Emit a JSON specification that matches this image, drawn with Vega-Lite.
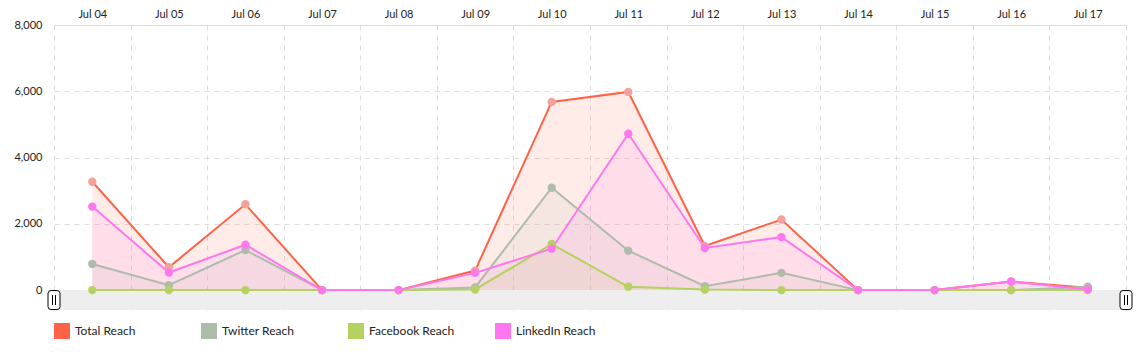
{
  "$schema": "https://vega.github.io/schema/vega-lite/v6.json",
  "width": 1072,
  "height": 285,
  "autosize": {"type": "none"},
  "padding": {"left": 54, "top": 25, "right": 11, "bottom": 47},
  "config": {
    "font": "Lato",
    "view": {"stroke": null},
    "axis": {"labelFont": "Lato", "labelFontSize": 11, "labelColor": "#222222", "tickSize": 0, "ticks": false}
  },
  "data": {"values": [
    {"d": "2016-07-04T00:00:00", "s": "Total Reach", "v": 3270},
    {"d": "2016-07-05T00:00:00", "s": "Total Reach", "v": 690},
    {"d": "2016-07-06T00:00:00", "s": "Total Reach", "v": 2590},
    {"d": "2016-07-07T00:00:00", "s": "Total Reach", "v": 0},
    {"d": "2016-07-08T00:00:00", "s": "Total Reach", "v": 0},
    {"d": "2016-07-09T00:00:00", "s": "Total Reach", "v": 590},
    {"d": "2016-07-10T00:00:00", "s": "Total Reach", "v": 5680},
    {"d": "2016-07-11T00:00:00", "s": "Total Reach", "v": 5980},
    {"d": "2016-07-12T00:00:00", "s": "Total Reach", "v": 1330},
    {"d": "2016-07-13T00:00:00", "s": "Total Reach", "v": 2130},
    {"d": "2016-07-14T00:00:00", "s": "Total Reach", "v": 0},
    {"d": "2016-07-15T00:00:00", "s": "Total Reach", "v": 0},
    {"d": "2016-07-16T00:00:00", "s": "Total Reach", "v": 260},
    {"d": "2016-07-17T00:00:00", "s": "Total Reach", "v": 70},
    {"d": "2016-07-04T00:00:00", "s": "Twitter Reach", "v": 790},
    {"d": "2016-07-05T00:00:00", "s": "Twitter Reach", "v": 150},
    {"d": "2016-07-06T00:00:00", "s": "Twitter Reach", "v": 1210},
    {"d": "2016-07-07T00:00:00", "s": "Twitter Reach", "v": 0},
    {"d": "2016-07-08T00:00:00", "s": "Twitter Reach", "v": 0},
    {"d": "2016-07-09T00:00:00", "s": "Twitter Reach", "v": 80},
    {"d": "2016-07-10T00:00:00", "s": "Twitter Reach", "v": 3090},
    {"d": "2016-07-11T00:00:00", "s": "Twitter Reach", "v": 1190},
    {"d": "2016-07-12T00:00:00", "s": "Twitter Reach", "v": 120},
    {"d": "2016-07-13T00:00:00", "s": "Twitter Reach", "v": 520},
    {"d": "2016-07-14T00:00:00", "s": "Twitter Reach", "v": 0},
    {"d": "2016-07-15T00:00:00", "s": "Twitter Reach", "v": 0},
    {"d": "2016-07-16T00:00:00", "s": "Twitter Reach", "v": 0},
    {"d": "2016-07-17T00:00:00", "s": "Twitter Reach", "v": 100},
    {"d": "2016-07-04T00:00:00", "s": "Facebook Reach", "v": 0},
    {"d": "2016-07-05T00:00:00", "s": "Facebook Reach", "v": 0},
    {"d": "2016-07-06T00:00:00", "s": "Facebook Reach", "v": 0},
    {"d": "2016-07-07T00:00:00", "s": "Facebook Reach", "v": 0},
    {"d": "2016-07-08T00:00:00", "s": "Facebook Reach", "v": 0},
    {"d": "2016-07-09T00:00:00", "s": "Facebook Reach", "v": 20},
    {"d": "2016-07-10T00:00:00", "s": "Facebook Reach", "v": 1390},
    {"d": "2016-07-11T00:00:00", "s": "Facebook Reach", "v": 100},
    {"d": "2016-07-12T00:00:00", "s": "Facebook Reach", "v": 20},
    {"d": "2016-07-13T00:00:00", "s": "Facebook Reach", "v": 0},
    {"d": "2016-07-14T00:00:00", "s": "Facebook Reach", "v": 0},
    {"d": "2016-07-15T00:00:00", "s": "Facebook Reach", "v": 0},
    {"d": "2016-07-16T00:00:00", "s": "Facebook Reach", "v": 0},
    {"d": "2016-07-17T00:00:00", "s": "Facebook Reach", "v": 0},
    {"d": "2016-07-04T00:00:00", "s": "LinkedIn Reach", "v": 2520},
    {"d": "2016-07-05T00:00:00", "s": "LinkedIn Reach", "v": 530},
    {"d": "2016-07-06T00:00:00", "s": "LinkedIn Reach", "v": 1370},
    {"d": "2016-07-07T00:00:00", "s": "LinkedIn Reach", "v": 0},
    {"d": "2016-07-08T00:00:00", "s": "LinkedIn Reach", "v": 0},
    {"d": "2016-07-09T00:00:00", "s": "LinkedIn Reach", "v": 520},
    {"d": "2016-07-10T00:00:00", "s": "LinkedIn Reach", "v": 1250},
    {"d": "2016-07-11T00:00:00", "s": "LinkedIn Reach", "v": 4720},
    {"d": "2016-07-12T00:00:00", "s": "LinkedIn Reach", "v": 1270},
    {"d": "2016-07-13T00:00:00", "s": "LinkedIn Reach", "v": 1600},
    {"d": "2016-07-14T00:00:00", "s": "LinkedIn Reach", "v": 0},
    {"d": "2016-07-15T00:00:00", "s": "LinkedIn Reach", "v": 0},
    {"d": "2016-07-16T00:00:00", "s": "LinkedIn Reach", "v": 260},
    {"d": "2016-07-17T00:00:00", "s": "LinkedIn Reach", "v": 20}
  ]},
  "resolve": {"axis": {"x": "independent", "y": "independent"}},
  "layer": [
    {
      "data": {"values": [{}]},
      "mark": {"type": "rect", "color": "#eeeeee"},
      "encoding": {
        "y": {"datum": -600, "type": "quantitative", "axis": null},
        "y2": {"datum": 0}
      }
    },
    {
      "mark": {"type": "area", "fillOpacity": 0.12, "interpolate": "linear"},
      "encoding": {
        "x": {
          "field": "d", "type": "temporal",
          "scale": {"domain": [{"year": 2016, "month": 7, "date": 3, "hours": 12}, {"year": 2016, "month": 7, "date": 17, "hours": 12}]},
          "axis": {
            "orient": "top", "title": null, "labels": false, "ticks": false, "domain": true, "domainColor": "#dddddd",
            "grid": true, "gridColor": "#dddddd", "gridDash": [5, 5], "gridWidth": 1,
            "values": [
              {"year": 2016, "month": 7, "date": 3, "hours": 12},
              {"year": 2016, "month": 7, "date": 4, "hours": 12},
              {"year": 2016, "month": 7, "date": 5, "hours": 12},
              {"year": 2016, "month": 7, "date": 6, "hours": 12},
              {"year": 2016, "month": 7, "date": 7, "hours": 12},
              {"year": 2016, "month": 7, "date": 8, "hours": 12},
              {"year": 2016, "month": 7, "date": 9, "hours": 12},
              {"year": 2016, "month": 7, "date": 10, "hours": 12},
              {"year": 2016, "month": 7, "date": 11, "hours": 12},
              {"year": 2016, "month": 7, "date": 12, "hours": 12},
              {"year": 2016, "month": 7, "date": 13, "hours": 12},
              {"year": 2016, "month": 7, "date": 14, "hours": 12},
              {"year": 2016, "month": 7, "date": 15, "hours": 12},
              {"year": 2016, "month": 7, "date": 16, "hours": 12},
              {"year": 2016, "month": 7, "date": 17, "hours": 12}
            ]
          }
        },
        "y": {
          "field": "v", "type": "quantitative",
          "scale": {"domain": [-600, 8000], "nice": false, "zero": false},
          "axis": {
            "title": null, "values": [0, 2000, 4000, 6000, 8000], "format": ",d", "domain": false,
            "labelPadding": 12, "grid": true, "gridDash": [5, 5],
            "gridColor": {"condition": {"test": "datum.value === 0", "value": "#999999"}, "value": "#dddddd"}
          }
        },
        "y2": {"datum": 0},
        "color": {
          "field": "s", "type": "nominal",
          "scale": {"domain": ["Total Reach", "Twitter Reach", "Facebook Reach", "LinkedIn Reach"], "range": ["#ff6347", "#aebcab", "#b5d160", "#ff77ee"]},
          "legend": {
            "title": null, "orient": "none", "legendX": 0, "legendY": 298, "direction": "horizontal", "columns": 4,
            "gridAlign": "all", "columnPadding": 40, "symbolType": "square", "symbolSize": 256, "symbolOpacity": 1,
            "symbolStrokeWidth": 0, "labelFontSize": 12, "labelColor": "#222222", "labelOffset": 5, "padding": 0,
            "encode": {"symbols": {"update": {"fillOpacity": {"value": 1}, "strokeWidth": {"value": 0}}}}
          }
        }
      }
    },
    {
      "mark": {"type": "line", "strokeWidth": 2},
      "encoding": {
        "x": {
          "field": "d", "type": "temporal",
          "axis": {
            "orient": "top", "title": null, "grid": false, "domain": false, "ticks": false, "format": "%b %d",
            "labelPadding": 6,
            "values": [
              {"year": 2016, "month": 7, "date": 4},
              {"year": 2016, "month": 7, "date": 5},
              {"year": 2016, "month": 7, "date": 6},
              {"year": 2016, "month": 7, "date": 7},
              {"year": 2016, "month": 7, "date": 8},
              {"year": 2016, "month": 7, "date": 9},
              {"year": 2016, "month": 7, "date": 10},
              {"year": 2016, "month": 7, "date": 11},
              {"year": 2016, "month": 7, "date": 12},
              {"year": 2016, "month": 7, "date": 13},
              {"year": 2016, "month": 7, "date": 14},
              {"year": 2016, "month": 7, "date": 15},
              {"year": 2016, "month": 7, "date": 16},
              {"year": 2016, "month": 7, "date": 17}
            ]
          }
        },
        "y": {"field": "v", "type": "quantitative", "axis": null},
        "color": {"field": "s", "type": "nominal", "legend": null}
      }
    },
    {
      "mark": {"type": "point", "filled": true, "size": 70, "opacity": 1},
      "encoding": {
        "x": {"field": "d", "type": "temporal", "axis": null},
        "y": {"field": "v", "type": "quantitative", "axis": null},
        "color": {
          "condition": {"test": "datum.s === 'Total Reach'", "value": "#f4a19b"},
          "field": "s", "type": "nominal", "legend": null
        }
      }
    },
    {
      "data": {"values": [{"edge": "2016-07-03T12:00:00"}, {"edge": "2016-07-17T12:00:00"}]},
      "mark": {
        "type": "point", "filled": false, "size": 400, "fill": "#ffffff", "fillOpacity": 1, "stroke": "#000000", "strokeWidth": 1, "opacity": 1,
        "shape": "M-0.3,-0.95 L0.3,-0.95 Q0.6,-0.95 0.6,-0.65 L0.6,0.65 Q0.6,0.95 0.3,0.95 L-0.3,0.95 Q-0.6,0.95 -0.6,0.65 L-0.6,-0.65 Q-0.6,-0.95 -0.3,-0.95 Z M-0.15,-0.5 L-0.15,0.5 M0.15,-0.5 L0.15,0.5"
      },
      "encoding": {
        "x": {"field": "edge", "type": "temporal", "axis": null},
        "y": {"datum": -300, "type": "quantitative", "axis": null}
      }
    }
  ]
}
